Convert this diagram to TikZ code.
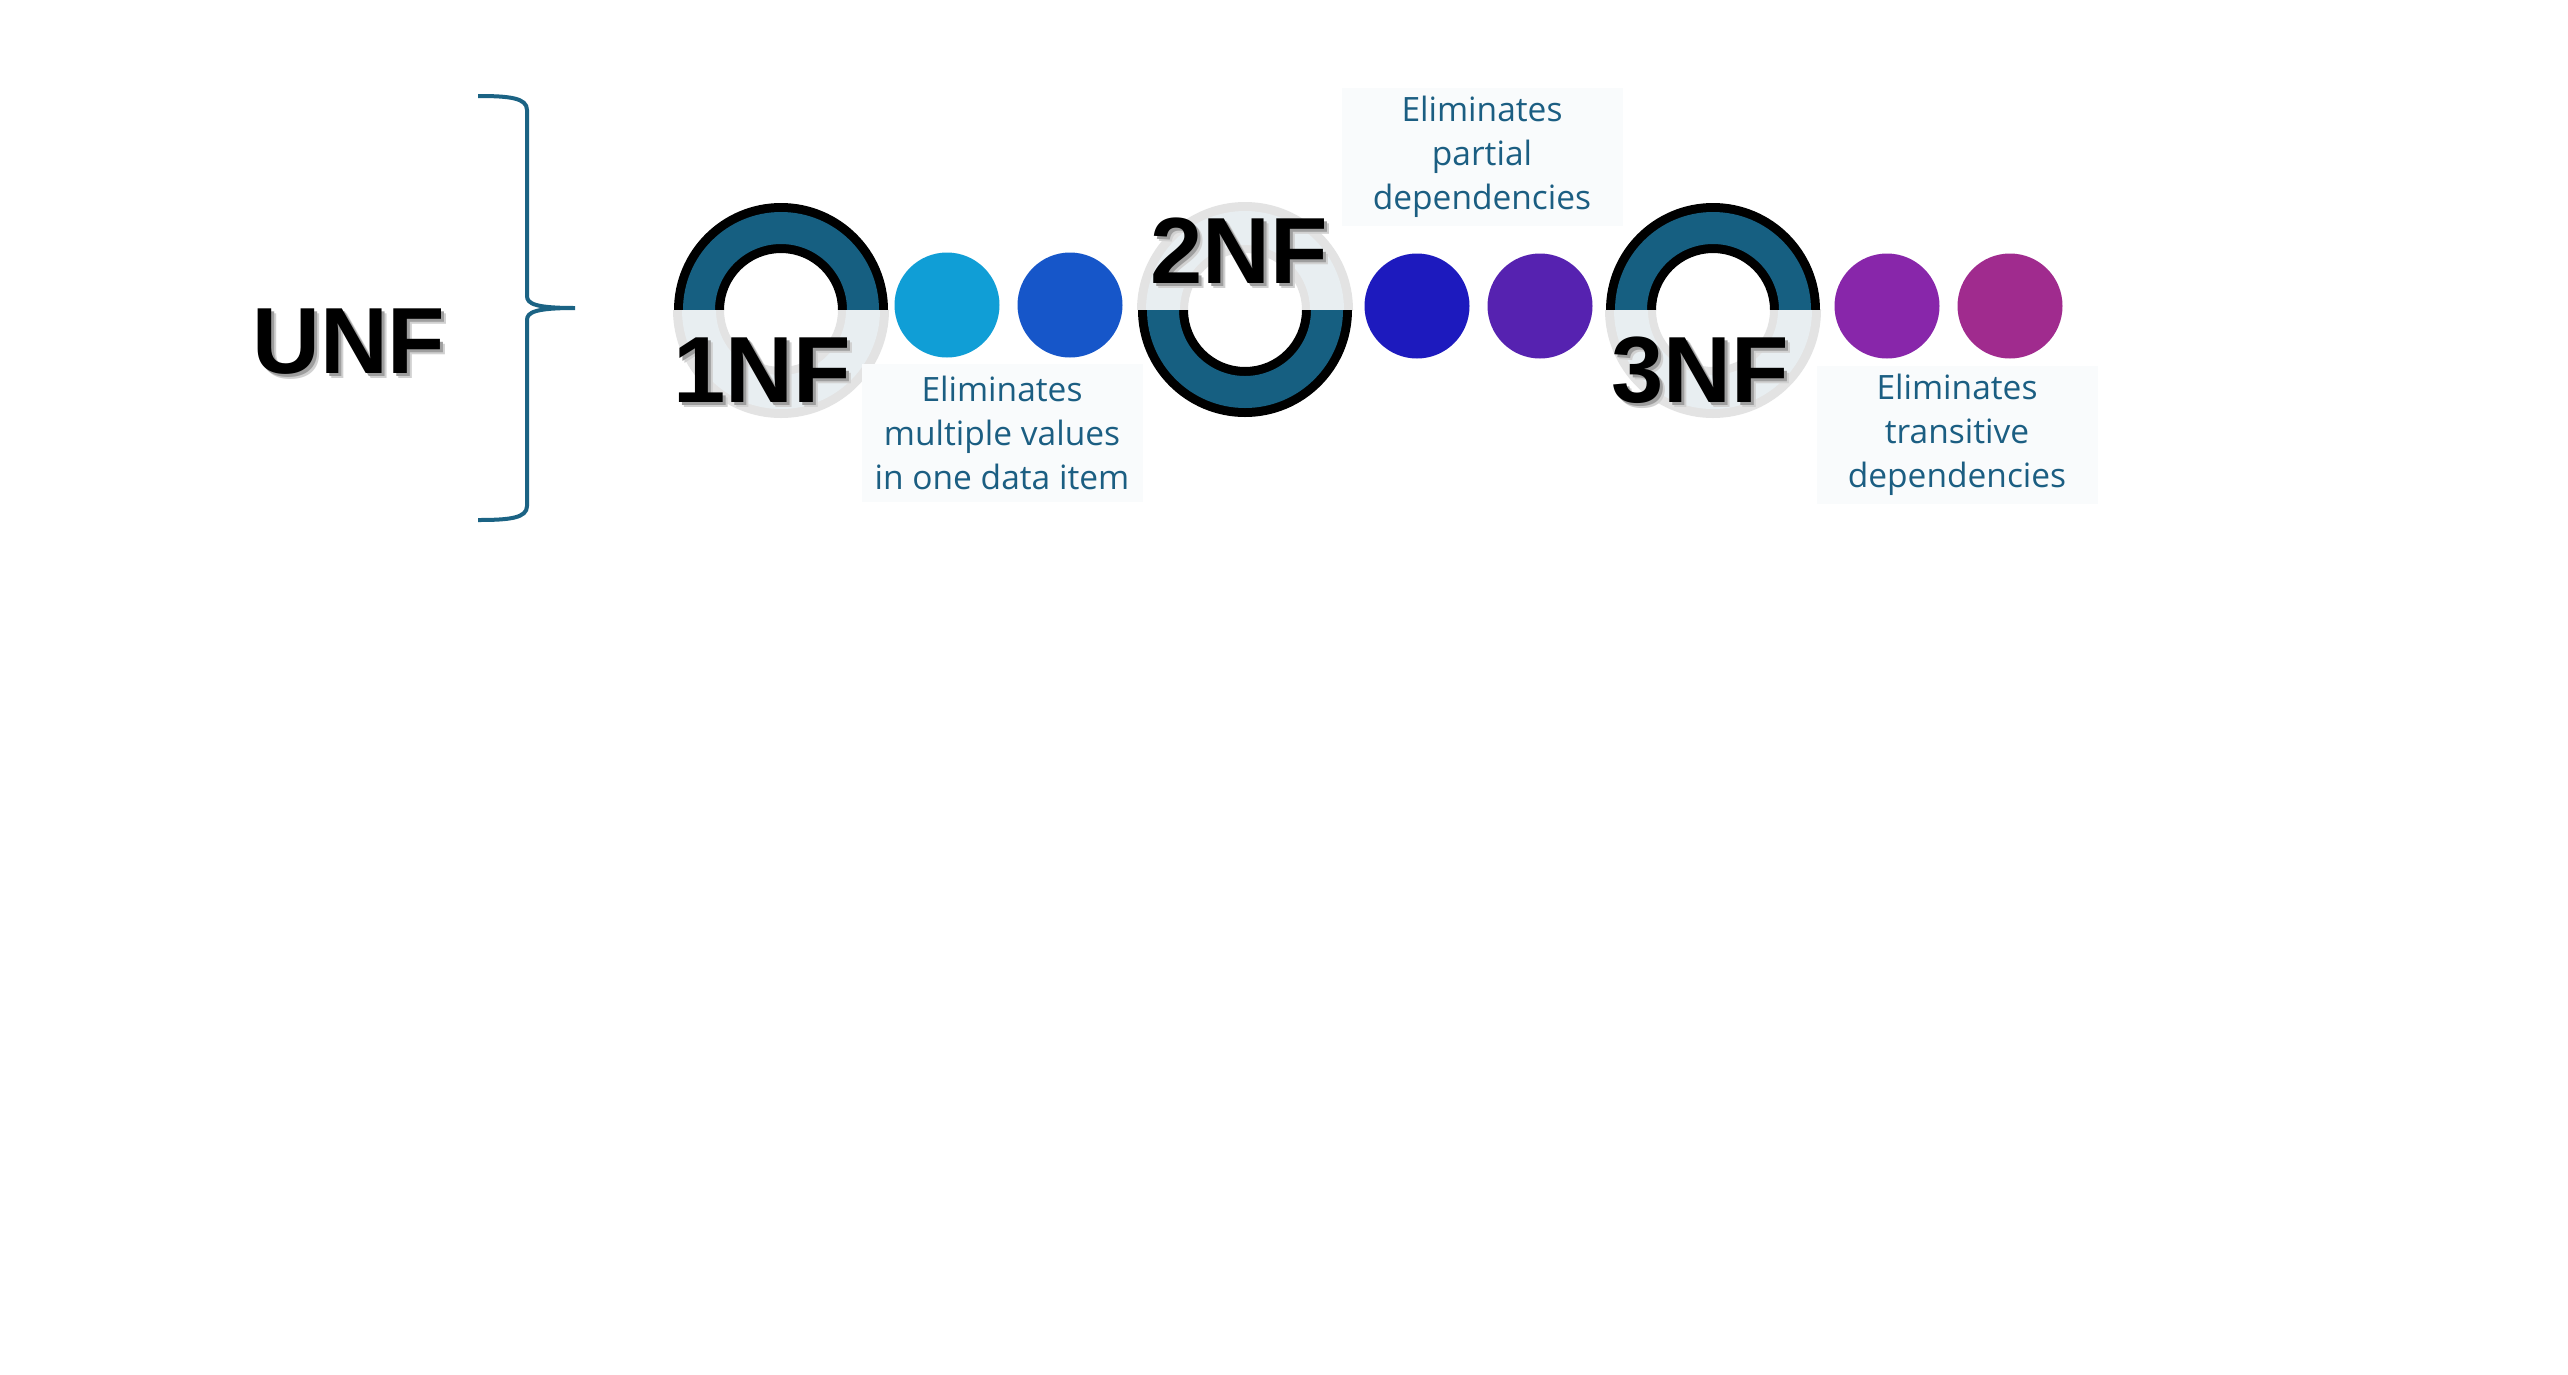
\documentclass[tikz,border=0pt]{standalone}
\usepackage{fontspec}
\setmainfont{Liberation Sans}
\newfontfamily\descfont{Open Sans}
\definecolor{ringteal}{HTML}{165F81}
\definecolor{ringpale}{HTML}{E8EEF1}
\definecolor{ringgrey}{HTML}{E3E3E3}
\definecolor{desccol}{HTML}{1B5E82}
\definecolor{boxcol}{HTML}{F9FBFC}
\definecolor{bracecol}{HTML}{1B6384}
\definecolor{cA}{HTML}{109ED6}
\definecolor{cB}{HTML}{1656C9}
\definecolor{cC}{HTML}{1D1ABE}
\definecolor{cD}{HTML}{5622B0}
\definecolor{cE}{HTML}{8826AA}
\definecolor{cF}{HTML}{A02B8E}
\tikzset{
  darkhalf/.pic={
    \fill[black] (#1:107) arc[start angle=#1, delta angle=-180, radius=107]
      -- ({#1-180}:57) arc[start angle={#1-180}, delta angle=180, radius=57] -- cycle;
    \fill[ringteal] (#1:98) arc[start angle=#1, delta angle=-180, radius=98]
      -- ({#1-180}:66) arc[start angle={#1-180}, delta angle=180, radius=66] -- cycle;
  },
  palehalf/.pic={
    \fill[ringgrey] (#1:108) arc[start angle=#1, delta angle=-180, radius=108]
      -- ({#1-180}:57) arc[start angle={#1-180}, delta angle=180, radius=57] -- cycle;
    \fill[ringpale] (#1:99) arc[start angle=#1, delta angle=-180, radius=99]
      -- ({#1-180}:65) arc[start angle={#1-180}, delta angle=180, radius=65] -- cycle;
  },
  bigtxt/.style={font=\fontsize{94}{100}\selectfont\bfseries, inner sep=0pt, anchor=base west},
  shadowA/.style={bigtxt, text=black!18},
  shadowB/.style={bigtxt, text=black!38},
  desc/.style={font=\descfont\fontsize{33.5}{44}\selectfont, text=desccol, align=center,
    fill=boxcol, minimum width=281pt, minimum height=138pt, inner sep=0pt},
  dot/.style={circle, minimum size=105pt, inner sep=0pt},
}
\begin{document}
\begin{tikzpicture}[x=1pt,y=-1pt]
\useasboundingbox (0,0) rectangle (2568,1374);
\fill[white] (0,0) rectangle (2568,1374);

% brace
\draw[bracecol, line width=4pt]
  (478,96) .. controls (510,96) and (527,98) .. (527,110) -- (527,296)
  .. controls (527,304) and (536,308) .. (575,308)
  .. controls (536,308) and (527,312) .. (527,320) -- (527,506)
  .. controls (527,518) and (510,520) .. (478,520);

% UNF
\node[shadowA] (unfsa) at (257,378) {UNF};
\node[shadowB] (unfsb) at (255,376) {UNF};
\node[bigtxt] (unf) at (252,373) {UNF};

% rings
\pic at (781,310) {darkhalf=0};
\pic at (781,310) {palehalf=180};
\pic at (1245,310) {palehalf=0};
\pic at (1245,310) {darkhalf=180};
\pic at (1713,310) {darkhalf=0};
\pic at (1713,310) {palehalf=180};

% ring labels
\node[shadowA] (onesa) at (678,407) {1NF};
\node[shadowB] (onesb) at (676,405) {1NF};
\node[bigtxt] (one) at (673,402) {1NF};
\node[shadowA] (twosa) at (1155,288) {2NF};
\node[shadowB] (twosb) at (1153,286) {2NF};
\node[bigtxt] (two) at (1150,283) {2NF};
\node[shadowA] (thrsa) at (1616,407) {3NF};
\node[shadowB] (thrsb) at (1614,405) {3NF};
\node[bigtxt] (thr) at (1611,402) {3NF};

% dots
\node[dot, fill=cA] (d1) at (947,305) {};
\node[dot, fill=cB] (d2) at (1070,305) {};
\node[dot, fill=cC] (d3) at (1417,306) {};
\node[dot, fill=cD] (d4) at (1540,306) {};
\node[dot, fill=cE] (d5) at (1887,306) {};
\node[dot, fill=cF] (d6) at (2010,306) {};

% descriptions
\node[desc] (t1) at (1002,433) {Eliminates\\multiple values\\in one data item};
\node[desc] (t2) at (1482,157) {Eliminates\\partial\\dependencies};
\node[desc] (t3) at (1957,435) {Eliminates\\transitive\\dependencies};
\end{tikzpicture}
\end{document}
